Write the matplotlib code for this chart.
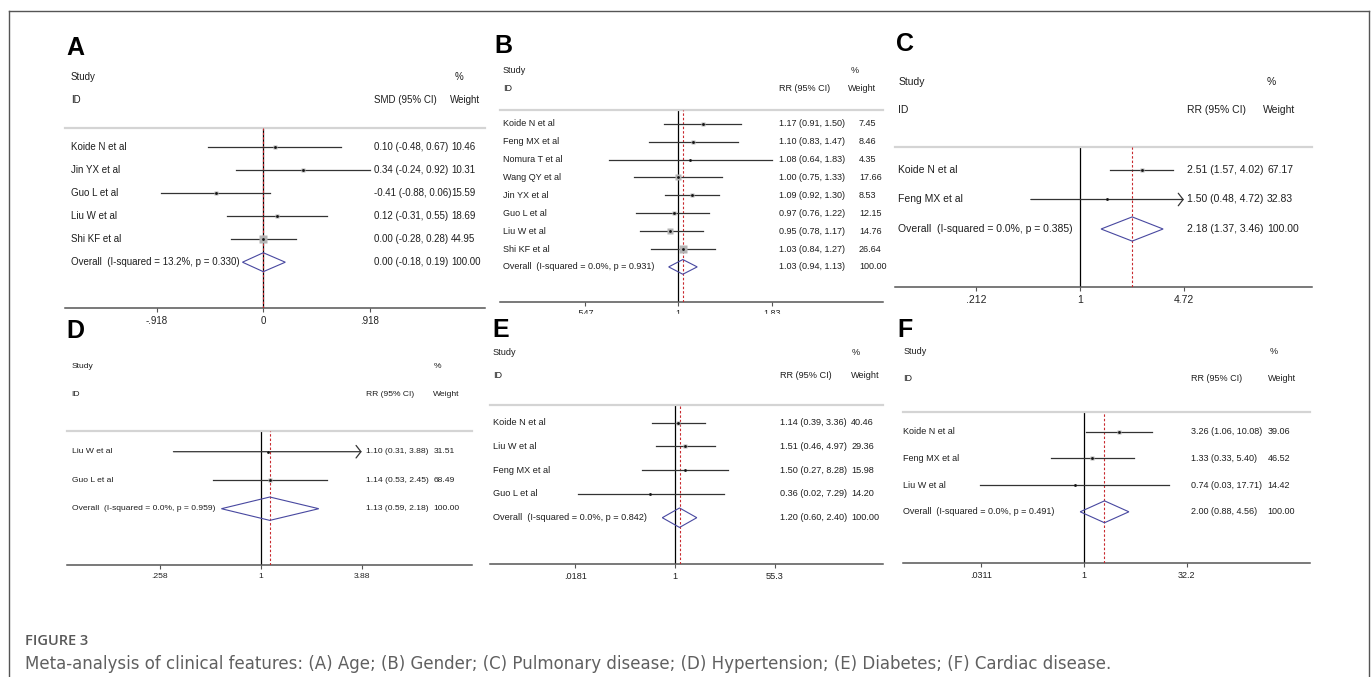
import numpy as np
import matplotlib
matplotlib.use("Agg")
import matplotlib.pyplot as plt
from matplotlib import transforms
from matplotlib.lines import Line2D
from matplotlib.patches import Rectangle, Polygon
from matplotlib.ticker import NullLocator

W, H = 1372, 677
plt.rcParams['font.family'] = ['Liberation Sans', 'DejaVu Sans']

# ---- data ----
# (A) Age, SMD
a_studies = ["Koide N et al", "Jin YX et al", "Guo L et al", "Liu W et al", "Shi KF et al"]
a_est = [0.10, 0.34, -0.41, 0.12, 0.00]
a_lo = [-0.48, -0.24, -0.88, -0.31, -0.28]
a_hi = [0.67, 0.92, 0.06, 0.55, 0.28]
a_wt = [10.46, 10.31, 15.59, 18.69, 44.95]
a_overall = [0.00, -0.18, 0.19]
a_het = [13.2, 0.330]
a_ticks = [-0.918, 0, 0.918]
a_ticklabels = ["-.918", "0", ".918"]

# (B) Gender, RR
b_studies = ["Koide N et al", "Feng MX et al", "Nomura T et al", "Wang QY et al",
             "Jin YX et al", "Guo L et al", "Liu W et al", "Shi KF et al"]
b_est = [1.17, 1.10, 1.08, 1.00, 1.09, 0.97, 0.95, 1.03]
b_lo = [0.91, 0.83, 0.64, 0.75, 0.92, 0.76, 0.78, 0.84]
b_hi = [1.50, 1.47, 1.83, 1.33, 1.30, 1.22, 1.17, 1.27]
b_wt = [7.45, 8.46, 4.35, 17.66, 8.53, 12.15, 14.76, 26.64]
b_overall = [1.03, 0.94, 1.13]
b_het = [0.0, 0.931]
b_ticks = [0.547, 1, 1.83]
b_ticklabels = [".547", "1", "1.83"]

# (C) Pulmonary disease, RR
c_studies = ["Koide N et al", "Feng MX et al"]
c_est = [2.51, 1.50]
c_lo = [1.57, 0.48]
c_hi = [4.02, 4.72]
c_wt = [67.17, 32.83]
c_overall = [2.18, 1.37, 3.46]
c_het = [0.0, 0.385]
c_ticks = [0.212, 1, 4.72]
c_ticklabels = [".212", "1", "4.72"]

# (D) Hypertension, RR
d_studies = ["Liu W et al", "Guo L et al"]
d_est = [1.10, 1.14]
d_lo = [0.31, 0.53]
d_hi = [3.88, 2.45]
d_wt = [31.51, 68.49]
d_overall = [1.13, 0.59, 2.18]
d_het = [0.0, 0.959]
d_ticks = [0.258, 1, 3.88]
d_ticklabels = [".258", "1", "3.88"]

# (E) Diabetes, RR
e_studies = ["Koide N et al", "Liu W et al", "Feng MX et al", "Guo L et al"]
e_est = [1.14, 1.51, 1.50, 0.36]
e_lo = [0.39, 0.46, 0.27, 0.02]
e_hi = [3.36, 4.97, 8.28, 7.29]
e_wt = [40.46, 29.36, 15.98, 14.20]
e_overall = [1.20, 0.60, 2.40]
e_het = [0.0, 0.842]
e_ticks = [0.0181, 1, 55.3]
e_ticklabels = [".0181", "1", "55.3"]

# (F) Cardiac disease, RR
f_studies = ["Koide N et al", "Feng MX et al", "Liu W et al"]
f_est = [3.26, 1.33, 0.74]
f_lo = [1.06, 0.33, 0.03]
f_hi = [10.08, 5.40, 17.71]
f_wt = [39.06, 46.52, 14.42]
f_overall = [2.00, 0.88, 4.56]
f_het = [0.0, 0.491]
f_ticks = [0.0311, 1, 32.2]
f_ticklabels = [".0311", "1", "32.2"]

caption_title = "FIGURE 3"
caption_text = ("Meta-analysis of clinical features: (A) Age; (B) Gender; (C) Pulmonary disease; "
                "(D) Hypertension; (E) Diabetes; (F) Cardiac disease.")

fig = plt.figure(figsize=(W / 100, H / 100), dpi=100)


def forest(letter, lay, studies, est, lo, hi, wt, ov, het, ticks, ticklabels, measure, log=True):
    left, right, sep, axis = lay["left"], lay["right"], lay["sep"], lay["axis"]
    r0, sp, fs = lay["row0"], lay["step"], lay["fs"]
    ax = fig.add_axes([left / W, 1 - axis / H, (right - left) / W, (axis - sep) / H])
    ax.set_ylim((axis - r0) / sp, (sep - r0) / sp)
    if log:
        ax.set_xscale("log")
    ax.set_xlim(lay["xlim"])
    ax.set_xticks(ticks)
    ax.set_xticklabels(ticklabels)
    ax.xaxis.set_minor_locator(NullLocator())
    ax.set_yticks([])
    ax.tick_params(axis="x", length=3, color="#555555", labelsize=fs, pad=2.5, labelcolor="#222222")
    for s in ["left", "right"]:
        ax.spines[s].set_visible(False)
    ax.spines["top"].set_color("#d4d4d4")
    ax.spines["top"].set_linewidth(1.6)
    ax.spines["bottom"].set_color("#555555")
    ax.spines["bottom"].set_linewidth(1.1)

    tr = transforms.blended_transform_factory(ax.transAxes, ax.transData)
    fx = lambda x: (x - left) / (right - left)
    fy = lambda y: (y - r0) / sp
    tc = "#1e1e1e"

    # headers
    ax.text(fx(lay["label_x"]), fy(lay["study_y"]), "Study", transform=tr, fontsize=fs, va="center", color=tc)
    ax.text(fx(lay["label_x"]), fy(lay["id_y"]), "ID", transform=tr, fontsize=fs, va="center", color=tc)
    ax.text(fx(lay["pct_x"]), fy(lay["study_y"]), "%", transform=tr, fontsize=fs, va="center", color=tc)
    ax.text(fx(lay["ci_x"]), fy(lay["id_y"]), f"{measure} (95% CI)", transform=tr, fontsize=fs,
            va="center", color=tc)
    ax.text(fx(lay["whdr_x"]), fy(lay["id_y"]), "Weight", transform=tr, fontsize=fs, va="center", color=tc)

    null = 0 if not log else 1
    ax.axvline(null, color="black", lw=0.9, zorder=2)
    ax.axvline(ov[0], color="#c8282d", lw=0.8, ls=(0, (2.2, 1.8)), zorder=3)

    for i, name in enumerate(studies):
        ax.text(fx(lay["label_x"]), i, name, transform=tr, fontsize=fs, va="center", color=tc)
        ax.text(fx(lay["ci_x"]), i, f"{est[i]:.2f} ({lo[i]:.2f}, {hi[i]:.2f})", transform=tr,
                fontsize=fs, va="center", color=tc)
        ax.text(fx(lay["wt_x"]), i, f"{wt[i]:.2f}", transform=tr, fontsize=fs, va="center", color=tc)
        clip = lay.get("clip")
        if clip is not None and hi[i] >= clip:
            ax.annotate("", xy=(hi[i], i), xytext=(lo[i], i),
                        arrowprops=dict(arrowstyle="->,head_length=0.35,head_width=0.45",
                                        color="#333333", lw=0.9, shrinkA=0, shrinkB=0), zorder=4)
        else:
            ax.plot([lo[i], hi[i]], [i, i], color="#333333", lw=0.9, zorder=4)
        ax.plot(est[i], i, marker="s", ms=lay["box"] * np.sqrt(wt[i]) * 0.72,
                color="#b4b4b4", mec="none", zorder=5)
        ax.plot(est[i], i, marker="o", ms=2.0, color="#111111", mec="none", zorder=6)

    n = len(studies)
    ax.text(fx(lay["label_x"]), n, f"Overall  (I-squared = {het[0]:.1f}%, p = {het[1]:.3f})",
            transform=tr, fontsize=fs, va="center", color=tc)
    ax.text(fx(lay["ci_x"]), n, f"{ov[0]:.2f} ({ov[1]:.2f}, {ov[2]:.2f})", transform=tr,
            fontsize=fs, va="center", color=tc)
    ax.text(fx(lay["wt_x"]), n, "100.00", transform=tr, fontsize=fs, va="center", color=tc)
    h = 0.41
    ax.add_patch(Polygon([(ov[1], n), (ov[0], n - h), (ov[2], n), (ov[0], n + h)], closed=True,
                         fill=False, ec="#4848a0", lw=0.8, zorder=6))

    fig.text(lay["letter"][0] / W, 1 - lay["letter"][1] / H, letter, fontsize=18, fontweight="bold",
             va="center", ha="left", color="black", zorder=6)
    return ax


lay_a = dict(left=65, right=485, sep=128.3, axis=308.3, row0=146.7, step=23.1, study_y=76.7, id_y=100,
             letter=(66, 48), label_x=70.7, ci_x=374, wt_x=451, whdr_x=450, pct_x=455, fs=7.0,
             xlim=(-1.7125, 1.9146), box=1.05)
lay_b = dict(left=500, right=882.7, sep=110, axis=301.7, row0=123.7, step=17.9, study_y=70.7, id_y=88.3,
             letter=(494, 46), label_x=503, ci_x=779, wt_x=859, whdr_x=847.7, pct_x=851, fs=6.5,
             xlim=(0.3166, 3.74), box=1.36)
lay_c = dict(left=895, right=1311.7, sep=147.3, axis=287.3, row0=170, step=29.5, study_y=81.7, id_y=110,
             letter=(896, 44), label_x=898.3, ci_x=1187.3, wt_x=1267, whdr_x=1263.3, pct_x=1266.7, fs=7.5,
             xlim=(0.0632, 31.8), box=0.5, clip=4.72)
lay_d = dict(left=66.7, right=471.7, sep=431, axis=565, row0=451.7, step=28.5, study_y=366.7, id_y=395,
             letter=(66, 331), label_x=71.7, ci_x=366, wt_x=433.3, whdr_x=432.7, pct_x=433.3, fs=6.1,
             xlim=(0.074, 16.98), box=0.5, clip=3.88)
lay_e = dict(left=490, right=882.7, sep=405, axis=564.3, row0=422.7, step=23.75, study_y=352.7, id_y=376,
             letter=(492, 330), label_x=492.7, ci_x=780, wt_x=851, whdr_x=850.7, pct_x=851.7, fs=6.6,
             xlim=(0.000593, 4195), box=0.63)
lay_f = dict(left=902.7, right=1310, sep=411.7, axis=563.3, row0=431.7, step=26.7, study_y=351.7, id_y=378.3,
             letter=(897, 330), label_x=903.3, ci_x=1190.7, wt_x=1267.7, whdr_x=1267.7, pct_x=1269.3, fs=6.5,
             xlim=(0.00219, 2071), box=0.73)

forest("A", lay_a, a_studies, a_est, a_lo, a_hi, a_wt, a_overall, a_het, a_ticks, a_ticklabels, "SMD", log=False)
forest("B", lay_b, b_studies, b_est, b_lo, b_hi, b_wt, b_overall, b_het, b_ticks, b_ticklabels, "RR")
forest("C", lay_c, c_studies, c_est, c_lo, c_hi, c_wt, c_overall, c_het, c_ticks, c_ticklabels, "RR")
forest("D", lay_d, d_studies, d_est, d_lo, d_hi, d_wt, d_overall, d_het, d_ticks, d_ticklabels, "RR")
forest("E", lay_e, e_studies, e_est, e_lo, e_hi, e_wt, e_overall, e_het, e_ticks, e_ticklabels, "RR")
forest("F", lay_f, f_studies, f_est, f_lo, f_hi, f_wt, f_overall, f_het, f_ticks, f_ticklabels, "RR")

# panel E sits over the bottom of B's tick labels
fig.add_artist(Rectangle((480 / W, 1 - 319 / H), 420 / W, 5.5 / H, transform=fig.transFigure,
                         color="white", zorder=1))

# outer frame (open at the bottom)
frame = dict(color="#555555", lw=1.0, transform=fig.transFigure)
fig.add_artist(Line2D([8.5 / W, 1368.5 / W], [1 - 10.5 / H, 1 - 10.5 / H], **frame))
fig.add_artist(Line2D([8.5 / W, 8.5 / W], [0, 1 - 10.5 / H], **frame))
fig.add_artist(Line2D([1368.5 / W, 1368.5 / W], [0, 1 - 10.5 / H], **frame))

fig.text(25 / W, 1 - 645 / H, caption_title, fontsize=10.5, fontweight="semibold", color="#585858",
         va="baseline", family=["Open Sans", "DejaVu Sans"])
fig.text(25 / W, 1 - 669.3 / H, caption_text, fontsize=11.95, color="#606060", va="baseline",
         family=["DejaVu Sans"])

fig.savefig("out.png", dpi=100)
